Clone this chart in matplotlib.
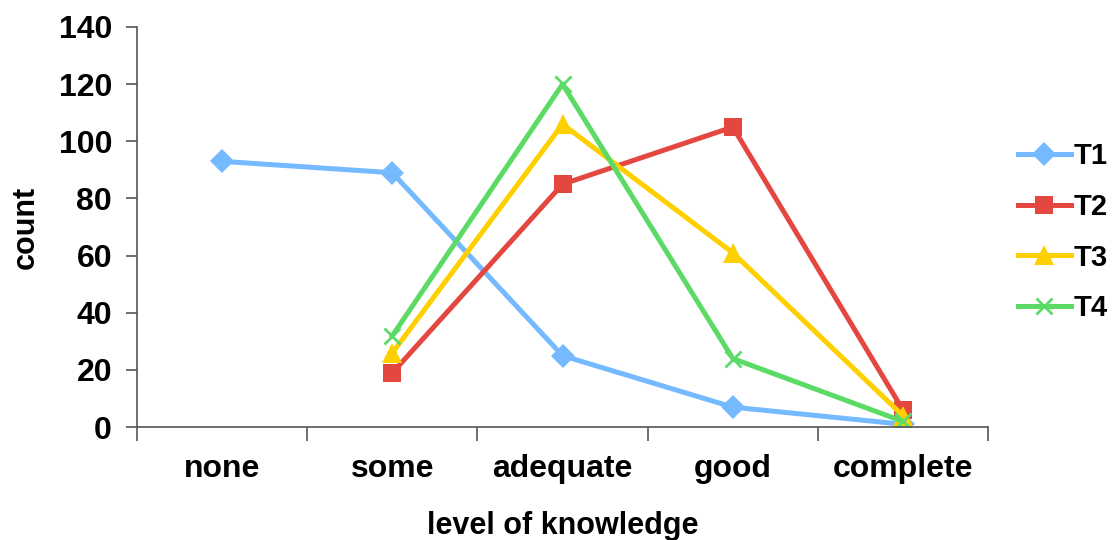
import numpy as np
import matplotlib
matplotlib.use('Agg')
import matplotlib.pyplot as plt

levels = ['none', 'some', 'adequate', 'good', 'complete']
t1 = [93, 89, 25, 7, 1]
t2 = [np.nan, 19, 85, 105, 6]
t3 = [np.nan, 26, 106, 61, 4]
t4 = [np.nan, 32, 120, 24, 2]

series = [
    ('T1', t1, '#75B9FF', 'D', 12),
    ('T2', t2, '#E44640', 's', 13),
    ('T3', t3, '#FFD000', '^', 14),
    ('T4', t4, '#5BDB66', 'x', 12),
]

plt.rcParams['font.family'] = ['Liberation Sans', 'DejaVu Sans']
plt.rcParams['font.weight'] = 'bold'

fig = plt.figure(figsize=(11.14, 5.4), dpi=100)
ax = fig.add_axes([0.123, 0.209, 0.764, 0.741])

x = np.arange(len(levels))
for name, vals, col, mk, ms in series:
    ax.plot(x, vals, color=col, lw=3.6, marker=mk, ms=ms,
            mew=2 if mk == 'x' else 0, mec=col, mfc=col, label=name)

ax.set_xlim(-0.5, len(levels) - 0.5)
ax.set_ylim(0, 140)
ax.set_yticks(range(0, 141, 20))

# category boundaries get the tick marks, names sit between them
ax.set_xticks(np.arange(-0.5, len(levels), 1.0))
ax.set_xticklabels([])
ax.set_xticks(x, minor=True)
ax.set_xticklabels(levels, minor=True)
ax.tick_params(axis='x', which='major', direction='out', length=10, width=1.2, color='#555555')
ax.tick_params(axis='x', which='minor', length=0, pad=19, labelsize=23)
ax.tick_params(axis='y', direction='out', length=8, width=1.2, color='#555555', labelsize=23, pad=10)

for side in ['top', 'right']:
    ax.spines[side].set_visible(False)
for side in ['left', 'bottom']:
    ax.spines[side].set_color('#555555')
    ax.spines[side].set_linewidth(1.2)

for lab in ax.get_xticklabels(which='minor') + ax.get_yticklabels():
    lab.set_fontweight('bold')

ax.set_xlabel('level of knowledge', fontsize=22, fontweight='bold', labelpad=20)
ax.set_ylabel('count', fontsize=22, fontweight='bold', labelpad=13)

fig.legend(loc='center left', bbox_to_anchor=(0.914, 0.570), frameon=False,
           handlelength=1.8, labelspacing=0.78, handletextpad=0.1,
           borderpad=0, borderaxespad=0,
           prop={'weight': 'bold', 'size': 21})

fig.savefig('out.png', dpi=100)
